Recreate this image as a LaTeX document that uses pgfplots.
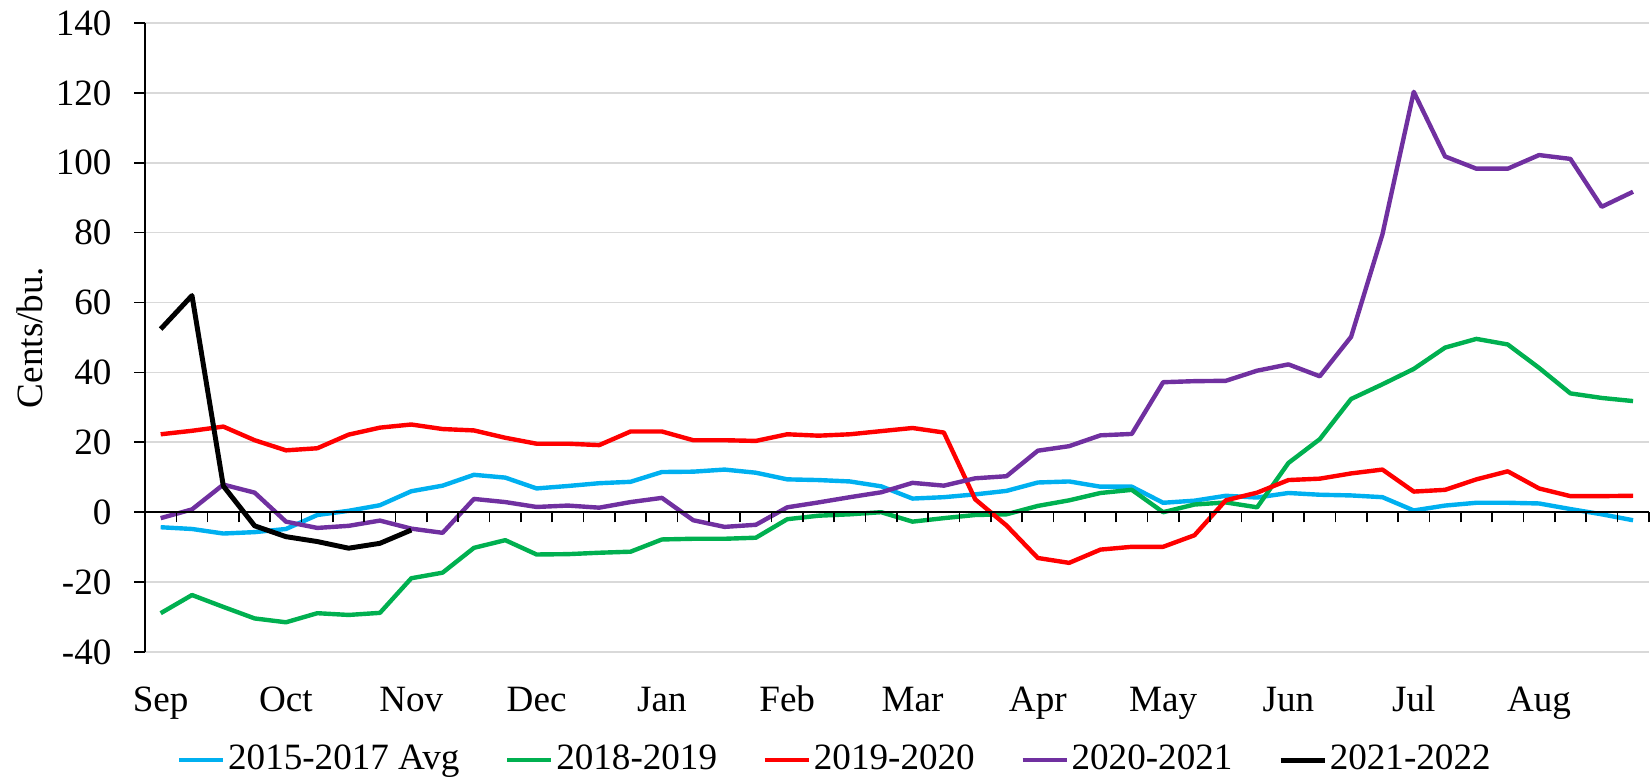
\documentclass[border=0pt]{standalone}
\usepackage{pgfplots}
\pgfplotsset{compat=1.18}
\usepackage{fontspec}
\setmainfont{Liberation Serif}
\definecolor{cAvg}{HTML}{00B0F0}
\definecolor{cG}{HTML}{00B050}
\definecolor{cR}{HTML}{FF0000}
\definecolor{cP}{HTML}{7030A0}
\definecolor{gridc}{HTML}{D9D9D9}
\begin{document}
\fontsize{13.5}{16}\selectfont
\begin{tikzpicture}
\begin{axis}[
  scale only axis,
  width=546.8pt, height=228.73pt,
  xmin=-0.5, xmax=47.5, ymin=-40, ymax=140,
  axis y line*=left, axis x line*=bottom,
  x axis line style={draw=none},
  axis line style={-, line width=0.6pt},
  ytick={-40,-20,...,140},
  ymajorgrids, grid style={gridc, line width=0.6pt},
  y tick style={black, line width=0.6pt},
  tick align=outside,
  major tick length=4pt,
  xtick={0,4,...,44},
  xticklabels={Sep,Oct,Nov,Dec,Jan,Feb,Mar,Apr,May,Jun,Jul,Aug},
  x tick style={draw=none},
  xticklabel style={anchor=base, yshift=-17.5pt},
  yticklabel style={anchor=east, inner sep=0pt, xshift=-8pt},
  /pgf/number format/assume math mode=true,
  ylabel={Cents/bu.},
  ylabel style={at={(axis description cs:-0.0768,0.5)}, anchor=center, rotate=0},
  legend columns=5,
  legend style={at={(axis description cs:0.459,-0.172)}, anchor=center, draw=none, fill=none,
    /tikz/every even column/.append style={column sep=15.6pt},
    nodes={inner xsep=1pt}},
  legend image code/.code={\draw[#1] (0pt,0pt) -- (16pt,0pt);},
  every axis plot/.append style={line width=1.6pt, line join=round},
  clip=false,
]
\addplot[cAvg] coordinates {(0,-4.3)(1,-4.8)(2,-6.1)(3,-5.7)(4,-4.8)(5,-0.8)(6,0.4)(7,2.0)(8,6.0)(9,7.6)(10,10.7)(11,9.9)(12,6.8)(13,7.5)(14,8.3)(15,8.7)(16,11.5)(17,11.6)(18,12.2)(19,11.3)(20,9.4)(21,9.2)(22,8.8)(23,7.4)(24,3.9)(25,4.3)(26,5.1)(27,6.1)(28,8.5)(29,8.8)(30,7.3)(31,7.3)(32,2.7)(33,3.3)(34,4.7)(35,4.2)(36,5.5)(37,5.0)(38,4.8)(39,4.3)(40,0.5)(41,1.9)(42,2.7)(43,2.7)(44,2.5)(45,0.9)(46,-0.6)(47,-2.3)};
\addlegendentry{2015-2017 Avg}
\addplot[cG] coordinates {(0,-28.9)(1,-23.7)(2,-27.1)(3,-30.4)(4,-31.5)(5,-28.9)(6,-29.4)(7,-28.8)(8,-18.9)(9,-17.3)(10,-10.2)(11,-8.0)(12,-12.1)(13,-12.0)(14,-11.6)(15,-11.3)(16,-7.8)(17,-7.6)(18,-7.6)(19,-7.3)(20,-2.0)(21,-1.0)(22,-0.6)(23,0)(24,-2.7)(25,-1.7)(26,-0.8)(27,-0.6)(28,1.8)(29,3.4)(30,5.5)(31,6.4)(32,0)(33,2.2)(34,2.8)(35,1.4)(36,14.1)(37,20.9)(38,32.4)(39,36.6)(40,41.0)(41,47.1)(42,49.6)(43,48.0)(44,41.3)(45,34.0)(46,32.7)(47,31.8)};
\addlegendentry{2018-2019}
\addplot[cR] coordinates {(0,22.3)(1,23.3)(2,24.5)(3,20.6)(4,17.7)(5,18.3)(6,22.2)(7,24.2)(8,25.1)(9,23.8)(10,23.4)(11,21.3)(12,19.6)(13,19.6)(14,19.2)(15,23.1)(16,23.1)(17,20.6)(18,20.6)(19,20.4)(20,22.3)(21,21.9)(22,22.3)(23,23.2)(24,24.1)(25,22.8)(26,3.7)(27,-3.8)(28,-13.1)(29,-14.5)(30,-10.7)(31,-9.9)(32,-9.9)(33,-6.6)(34,3.4)(35,5.6)(36,9.2)(37,9.6)(38,11.1)(39,12.2)(40,5.9)(41,6.4)(42,9.4)(43,11.7)(44,6.8)(45,4.6)(46,4.6)(47,4.7)};
\addlegendentry{2019-2020}
\addplot[cP] coordinates {(0,-1.7)(1,0.8)(2,7.9)(3,5.6)(4,-2.7)(5,-4.5)(6,-3.9)(7,-2.4)(8,-4.7)(9,-5.9)(10,3.8)(11,2.9)(12,1.5)(13,1.9)(14,1.3)(15,2.9)(16,4.1)(17,-2.3)(18,-4.2)(19,-3.6)(20,1.4)(21,2.8)(22,4.3)(23,5.7)(24,8.4)(25,7.6)(26,9.7)(27,10.3)(28,17.6)(29,18.9)(30,22.0)(31,22.4)(32,37.2)(33,37.5)(34,37.6)(35,40.5)(36,42.3)(37,38.9)(38,50.2)(39,79.5)(40,120.3)(41,101.8)(42,98.3)(43,98.3)(44,102.2)(45,101.1)(46,87.4)(47,91.7)};
\addlegendentry{2020-2021}
\addplot[black, line width=1.8pt] coordinates {(0,52.4)(1,62.0)(2,7.5)(3,-3.9)(4,-7.0)(5,-8.4)(6,-10.3)(7,-8.9)(8,-5.1)};
\addlegendentry{2021-2022}
\end{axis}
\begin{axis}[
  scale only axis,
  width=546.8pt, height=228.73pt,
  xmin=-0.5, xmax=47.5, ymin=-40, ymax=140,
  axis x line=middle, axis y line=none,
  axis line style={-, line width=0.6pt},
  xtick={-0.5,0.5,...,47.5},
  xticklabels={},
  ytick=\empty,
  tick align=outside,
  major tick length=3.7pt,
  x tick style={black, line width=0.6pt},
]
\end{axis}
\pgfresetboundingbox
\path[use as bounding box] (-52.73pt,-46.18pt) rectangle (547.27pt,237.09pt);
\end{tikzpicture}
\end{document}
